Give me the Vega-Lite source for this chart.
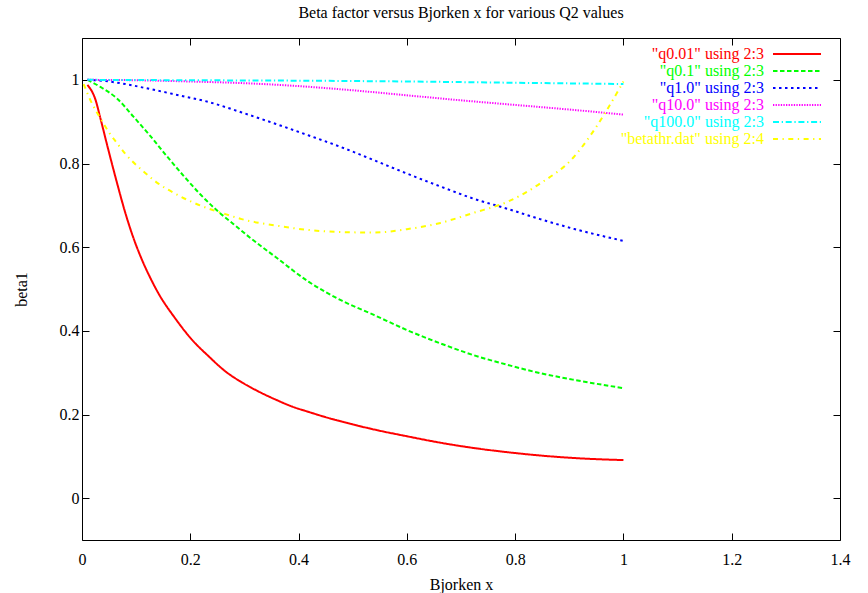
{
  "$schema": "https://vega.github.io/schema/vega-lite/v6.json",
  "autosize": {"type": "none"},
  "padding": {"left": 82, "top": 38, "right": 28, "bottom": 53},
  "width": 758,
  "height": 502,
  "background": "white",
  "title": {"text": "Beta factor versus Bjorken x for various Q2 values", "font": "Liberation Serif", "fontSize": 16, "fontWeight": "normal", "color": "black", "anchor": "middle", "baseline": "alphabetic", "frame": "group", "offset": 20, "dy": 16},
  "datasets": {
    "curves": [
      {"x": 0.01, "y": 0.988, "s": "\"q0.01\" using 2:3"},
      {"x": 0.025, "y": 0.952, "s": "\"q0.01\" using 2:3"},
      {"x": 0.034, "y": 0.908, "s": "\"q0.01\" using 2:3"},
      {"x": 0.049, "y": 0.831, "s": "\"q0.01\" using 2:3"},
      {"x": 0.065, "y": 0.752, "s": "\"q0.01\" using 2:3"},
      {"x": 0.08, "y": 0.682, "s": "\"q0.01\" using 2:3"},
      {"x": 0.095, "y": 0.622, "s": "\"q0.01\" using 2:3"},
      {"x": 0.111, "y": 0.569, "s": "\"q0.01\" using 2:3"},
      {"x": 0.126, "y": 0.527, "s": "\"q0.01\" using 2:3"},
      {"x": 0.141, "y": 0.490, "s": "\"q0.01\" using 2:3"},
      {"x": 0.172, "y": 0.430, "s": "\"q0.01\" using 2:3"},
      {"x": 0.203, "y": 0.379, "s": "\"q0.01\" using 2:3"},
      {"x": 0.234, "y": 0.339, "s": "\"q0.01\" using 2:3"},
      {"x": 0.265, "y": 0.303, "s": "\"q0.01\" using 2:3"},
      {"x": 0.295, "y": 0.277, "s": "\"q0.01\" using 2:3"},
      {"x": 0.326, "y": 0.255, "s": "\"q0.01\" using 2:3"},
      {"x": 0.357, "y": 0.236, "s": "\"q0.01\" using 2:3"},
      {"x": 0.388, "y": 0.219, "s": "\"q0.01\" using 2:3"},
      {"x": 0.419, "y": 0.206, "s": "\"q0.01\" using 2:3"},
      {"x": 0.449, "y": 0.194, "s": "\"q0.01\" using 2:3"},
      {"x": 0.48, "y": 0.183, "s": "\"q0.01\" using 2:3"},
      {"x": 0.54, "y": 0.164, "s": "\"q0.01\" using 2:3"},
      {"x": 0.6, "y": 0.148, "s": "\"q0.01\" using 2:3"},
      {"x": 0.66, "y": 0.133, "s": "\"q0.01\" using 2:3"},
      {"x": 0.723, "y": 0.120, "s": "\"q0.01\" using 2:3"},
      {"x": 0.785, "y": 0.110, "s": "\"q0.01\" using 2:3"},
      {"x": 0.846, "y": 0.102, "s": "\"q0.01\" using 2:3"},
      {"x": 0.908, "y": 0.096, "s": "\"q0.01\" using 2:3"},
      {"x": 1.0, "y": 0.091, "s": "\"q0.01\" using 2:3"},

      {"x": 0.01, "y": 1.0, "s": "\"q0.1\" using 2:3"},
      {"x": 0.034, "y": 0.983, "s": "\"q0.1\" using 2:3"},
      {"x": 0.065, "y": 0.955, "s": "\"q0.1\" using 2:3"},
      {"x": 0.095, "y": 0.912, "s": "\"q0.1\" using 2:3"},
      {"x": 0.126, "y": 0.866, "s": "\"q0.1\" using 2:3"},
      {"x": 0.157, "y": 0.817, "s": "\"q0.1\" using 2:3"},
      {"x": 0.188, "y": 0.770, "s": "\"q0.1\" using 2:3"},
      {"x": 0.218, "y": 0.727, "s": "\"q0.1\" using 2:3"},
      {"x": 0.249, "y": 0.688, "s": "\"q0.1\" using 2:3"},
      {"x": 0.28, "y": 0.655, "s": "\"q0.1\" using 2:3"},
      {"x": 0.311, "y": 0.622, "s": "\"q0.1\" using 2:3"},
      {"x": 0.357, "y": 0.577, "s": "\"q0.1\" using 2:3"},
      {"x": 0.419, "y": 0.517, "s": "\"q0.1\" using 2:3"},
      {"x": 0.48, "y": 0.472, "s": "\"q0.1\" using 2:3"},
      {"x": 0.539, "y": 0.438, "s": "\"q0.1\" using 2:3"},
      {"x": 0.6, "y": 0.402, "s": "\"q0.1\" using 2:3"},
      {"x": 0.662, "y": 0.370, "s": "\"q0.1\" using 2:3"},
      {"x": 0.723, "y": 0.342, "s": "\"q0.1\" using 2:3"},
      {"x": 0.785, "y": 0.319, "s": "\"q0.1\" using 2:3"},
      {"x": 0.846, "y": 0.299, "s": "\"q0.1\" using 2:3"},
      {"x": 0.908, "y": 0.283, "s": "\"q0.1\" using 2:3"},
      {"x": 1.0, "y": 0.263, "s": "\"q0.1\" using 2:3"},

      {"x": 0.01, "y": 1.0, "s": "\"q1.0\" using 2:3"},
      {"x": 0.05, "y": 0.996, "s": "\"q1.0\" using 2:3"},
      {"x": 0.08, "y": 0.990, "s": "\"q1.0\" using 2:3"},
      {"x": 0.111, "y": 0.982, "s": "\"q1.0\" using 2:3"},
      {"x": 0.172, "y": 0.965, "s": "\"q1.0\" using 2:3"},
      {"x": 0.234, "y": 0.947, "s": "\"q1.0\" using 2:3"},
      {"x": 0.295, "y": 0.922, "s": "\"q1.0\" using 2:3"},
      {"x": 0.357, "y": 0.895, "s": "\"q1.0\" using 2:3"},
      {"x": 0.419, "y": 0.867, "s": "\"q1.0\" using 2:3"},
      {"x": 0.477, "y": 0.840, "s": "\"q1.0\" using 2:3"},
      {"x": 0.539, "y": 0.808, "s": "\"q1.0\" using 2:3"},
      {"x": 0.6, "y": 0.776, "s": "\"q1.0\" using 2:3"},
      {"x": 0.662, "y": 0.745, "s": "\"q1.0\" using 2:3"},
      {"x": 0.723, "y": 0.716, "s": "\"q1.0\" using 2:3"},
      {"x": 0.785, "y": 0.692, "s": "\"q1.0\" using 2:3"},
      {"x": 0.846, "y": 0.667, "s": "\"q1.0\" using 2:3"},
      {"x": 0.908, "y": 0.644, "s": "\"q1.0\" using 2:3"},
      {"x": 1.0, "y": 0.615, "s": "\"q1.0\" using 2:3"},

      {"x": 0.01, "y": 1.0, "s": "\"q10.0\" using 2:3"},
      {"x": 0.1, "y": 0.999, "s": "\"q10.0\" using 2:3"},
      {"x": 0.2, "y": 0.996, "s": "\"q10.0\" using 2:3"},
      {"x": 0.3, "y": 0.992, "s": "\"q10.0\" using 2:3"},
      {"x": 0.4, "y": 0.985, "s": "\"q10.0\" using 2:3"},
      {"x": 0.5, "y": 0.975, "s": "\"q10.0\" using 2:3"},
      {"x": 0.6, "y": 0.963, "s": "\"q10.0\" using 2:3"},
      {"x": 0.7, "y": 0.951, "s": "\"q10.0\" using 2:3"},
      {"x": 0.8, "y": 0.940, "s": "\"q10.0\" using 2:3"},
      {"x": 0.9, "y": 0.929, "s": "\"q10.0\" using 2:3"},
      {"x": 1.0, "y": 0.917, "s": "\"q10.0\" using 2:3"},

      {"x": 0.01, "y": 1.0, "s": "\"q100.0\" using 2:3"},
      {"x": 0.2, "y": 0.999, "s": "\"q100.0\" using 2:3"},
      {"x": 0.4, "y": 0.998, "s": "\"q100.0\" using 2:3"},
      {"x": 0.6, "y": 0.996, "s": "\"q100.0\" using 2:3"},
      {"x": 0.8, "y": 0.993, "s": "\"q100.0\" using 2:3"},
      {"x": 1.0, "y": 0.990, "s": "\"q100.0\" using 2:3"},

      {"x": 0.003, "y": 0.99, "s": "\"betathr.dat\" using 2:4"},
      {"x": 0.016, "y": 0.95, "s": "\"betathr.dat\" using 2:4"},
      {"x": 0.034, "y": 0.908, "s": "\"betathr.dat\" using 2:4"},
      {"x": 0.049, "y": 0.876, "s": "\"betathr.dat\" using 2:4"},
      {"x": 0.065, "y": 0.848, "s": "\"betathr.dat\" using 2:4"},
      {"x": 0.08, "y": 0.823, "s": "\"betathr.dat\" using 2:4"},
      {"x": 0.111, "y": 0.784, "s": "\"betathr.dat\" using 2:4"},
      {"x": 0.141, "y": 0.752, "s": "\"betathr.dat\" using 2:4"},
      {"x": 0.172, "y": 0.728, "s": "\"betathr.dat\" using 2:4"},
      {"x": 0.203, "y": 0.708, "s": "\"betathr.dat\" using 2:4"},
      {"x": 0.234, "y": 0.692, "s": "\"betathr.dat\" using 2:4"},
      {"x": 0.265, "y": 0.679, "s": "\"betathr.dat\" using 2:4"},
      {"x": 0.295, "y": 0.667, "s": "\"betathr.dat\" using 2:4"},
      {"x": 0.357, "y": 0.652, "s": "\"betathr.dat\" using 2:4"},
      {"x": 0.419, "y": 0.641, "s": "\"betathr.dat\" using 2:4"},
      {"x": 0.48, "y": 0.636, "s": "\"betathr.dat\" using 2:4"},
      {"x": 0.539, "y": 0.635, "s": "\"betathr.dat\" using 2:4"},
      {"x": 0.6, "y": 0.643, "s": "\"betathr.dat\" using 2:4"},
      {"x": 0.662, "y": 0.658, "s": "\"betathr.dat\" using 2:4"},
      {"x": 0.723, "y": 0.682, "s": "\"betathr.dat\" using 2:4"},
      {"x": 0.785, "y": 0.708, "s": "\"betathr.dat\" using 2:4"},
      {"x": 0.846, "y": 0.752, "s": "\"betathr.dat\" using 2:4"},
      {"x": 0.908, "y": 0.815, "s": "\"betathr.dat\" using 2:4"},
      {"x": 0.939, "y": 0.867, "s": "\"betathr.dat\" using 2:4"},
      {"x": 0.969, "y": 0.927, "s": "\"betathr.dat\" using 2:4"},
      {"x": 1.0, "y": 0.996, "s": "\"betathr.dat\" using 2:4"}
    ]
  },
  "data": {"name": "curves"},
  "resolve": {"axis": {"x": "independent", "y": "independent"}},
  "layer": [
    {
      "mark": {"type": "line", "strokeWidth": 2, "clip": true, "interpolate": "monotone"},
      "encoding": {
        "x": {"field": "x", "type": "quantitative",
          "scale": {"domain": [0, 1.4], "nice": false, "zero": false},
          "axis": {"orient": "bottom", "title": "Bjorken x", "values": [0, 0.2, 0.4, 0.6, 0.8, 1, 1.2, 1.4], "format": "~g", "labelFlush": false, "labelOverlap": false, "titlePadding": 9, "labelPadding": 18}},
        "y": {"field": "y", "type": "quantitative",
          "scale": {"domain": [-0.1, 1.1], "nice": false, "zero": false},
          "axis": {"orient": "left", "title": "beta1", "values": [0, 0.2, 0.4, 0.6, 0.8, 1], "format": "~g", "labelFlush": false, "labelOverlap": false, "titlePadding": 30, "labelPadding": 10}},
        "color": {"field": "s", "type": "nominal",
          "scale": {"domain": ["\"q0.01\" using 2:3", "\"q0.1\" using 2:3", "\"q1.0\" using 2:3", "\"q10.0\" using 2:3", "\"q100.0\" using 2:3", "\"betathr.dat\" using 2:4"],
                    "range": ["#ff0000", "#00ff00", "#0000ff", "#ff00ff", "#00ffff", "#ffff00"]},
          "legend": {"orient": "none", "legendX": 706, "legendY": 7, "title": null,
            "encode": {"labels": {"update": {"fill": {"scale": "color", "field": "value"}}}}}},
        "strokeDash": {"field": "s", "type": "nominal",
          "scale": {"domain": ["\"q0.01\" using 2:3", "\"q0.1\" using 2:3", "\"q1.0\" using 2:3", "\"q10.0\" using 2:3", "\"q100.0\" using 2:3", "\"betathr.dat\" using 2:4"],
                    "range": [[1, 0], [4.5, 2.5], [2.5, 3.5], [1.3, 1.3], [6, 2.7, 1.3, 2.7], [5, 4.5, 1.3, 4.5]]},
          "legend": {"orient": "none", "legendX": 706, "legendY": 7, "title": null,
            "encode": {"labels": {"update": {"fill": {"scale": "color", "field": "value"}}}}}},
        "order": {"field": "x", "type": "quantitative"}
      }
    },
    {
      "mark": {"type": "point", "opacity": 0},
      "encoding": {
        "x": {"field": "x", "type": "quantitative",
          "axis": {"orient": "top", "title": null, "labels": false, "values": [0, 0.2, 0.4, 0.6, 0.8, 1, 1.2, 1.4]}},
        "y": {"field": "y", "type": "quantitative",
          "axis": {"orient": "right", "title": null, "labels": false, "values": [0, 0.2, 0.4, 0.6, 0.8, 1]}}
      }
    }
  ],
  "config": {
    "font": "Liberation Serif",
    "view": {"stroke": null},
    "axis": {
      "grid": false,
      "domainColor": "black",
      "domainWidth": 1,
      "tickColor": "black",
      "tickSize": -7,
      "tickWidth": 1,
      "labelFont": "Liberation Serif",
      "labelFontSize": 16,
      "labelColor": "black",
      "titleFont": "Liberation Serif",
      "titleFontSize": 16,
      "titleFontWeight": "normal",
      "titleColor": "black"
    },
    "legend": {
      "symbolType": "M-3,0H3",
      "symbolSize": 256,
      "symbolStrokeWidth": 2,
      "labelFont": "Liberation Serif",
      "labelFontSize": 16,
      "labelAlign": "right",
      "labelOffset": -42,
      "labelLimit": 0,
      "rowPadding": 0,
      "padding": 0,
      "labelBaseline": "middle"
    }
  }
}
